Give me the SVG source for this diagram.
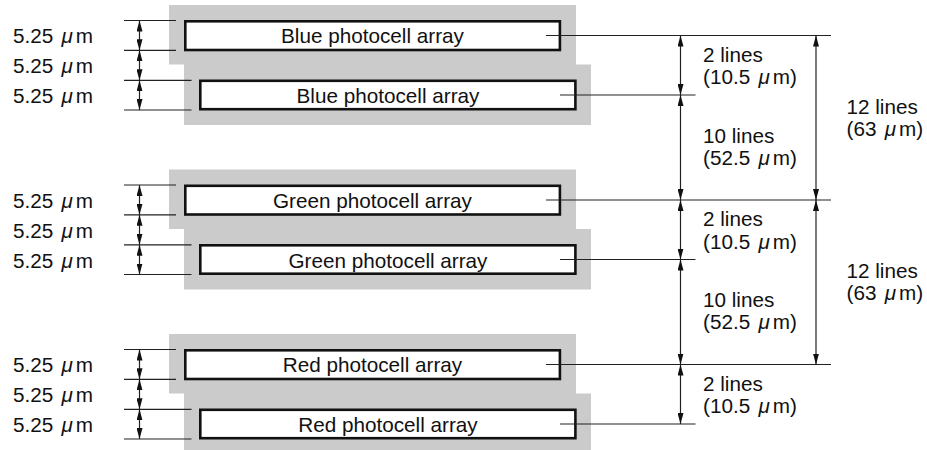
<svg xmlns="http://www.w3.org/2000/svg" width="927" height="450" viewBox="0 0 927 450">
<style>
  text { font-family: "Liberation Sans", Arial, Helvetica, sans-serif; font-size: 20.7px; fill: #111; }
  .mu { font-style: italic; }
  .gray { fill: #cbcbcb; stroke: none; }
  .box { fill: #fff; stroke: #111; stroke-width: 2.6; }
  .ext { stroke: #222; stroke-width: 1.2; fill: none; }
  .dim { stroke: #222; stroke-width: 1.2; fill: none; marker-start: url(#ah); marker-end: url(#ah); }
  .c { text-anchor: middle; }
</style>
<defs>
  <marker id="ah" markerWidth="11" markerHeight="6" refX="11" refY="3" orient="auto-start-reverse" markerUnits="userSpaceOnUse">
    <path d="M0,0 L11,3 L0,6 z" fill="#111"/>
  </marker>
</defs>
<rect width="927" height="450" fill="#fff"/>

<!-- Blue group -->
<g id="blue" transform="translate(0,0)">
  <path class="gray" d="M169,5 H576 V64.5 H591 V125 H184 V64.5 H169 Z"/>
  <g id="blue-array-1">
    <rect class="box" x="185.3" y="21.3" width="374.6" height="28.7"/>
    <text class="c" x="372.5" y="43">Blue photocell array</text>
  </g>
  <g id="blue-array-2">
    <rect class="box" x="200.3" y="80.8" width="375.1" height="28.4"/>
    <text class="c" x="388" y="103">Blue photocell array</text>
  </g>
  <text x="13" y="43.3">5.25 <tspan class="mu" dx="2.5">μ</tspan><tspan dx="3">m</tspan></text>
  <text x="13" y="73.3">5.25 <tspan class="mu" dx="2.5">μ</tspan><tspan dx="3">m</tspan></text>
  <text x="13" y="103.3">5.25 <tspan class="mu" dx="2.5">μ</tspan><tspan dx="3">m</tspan></text>
</g>

<!-- Green group -->
<g id="green" transform="translate(0,164.5)">
  <path class="gray" d="M169,5 H576 V64.5 H591 V125 H184 V64.5 H169 Z"/>
  <g id="green-array-1">
    <rect class="box" x="185.3" y="21.3" width="374.6" height="28.7"/>
    <text class="c" x="372.5" y="43">Green photocell array</text>
  </g>
  <g id="green-array-2">
    <rect class="box" x="200.3" y="80.8" width="375.1" height="28.4"/>
    <text class="c" x="388" y="103">Green photocell array</text>
  </g>
  <text x="13" y="43.3">5.25 <tspan class="mu" dx="2.5">μ</tspan><tspan dx="3">m</tspan></text>
  <text x="13" y="73.3">5.25 <tspan class="mu" dx="2.5">μ</tspan><tspan dx="3">m</tspan></text>
  <text x="13" y="103.3">5.25 <tspan class="mu" dx="2.5">μ</tspan><tspan dx="3">m</tspan></text>
</g>

<!-- Red group -->
<g id="red" transform="translate(0,329)">
  <path class="gray" d="M169,5 H576 V64.5 H591 V125 H184 V64.5 H169 Z"/>
  <g id="red-array-1">
    <rect class="box" x="185.3" y="21.3" width="374.6" height="28.7"/>
    <text class="c" x="372.5" y="43">Red photocell array</text>
  </g>
  <g id="red-array-2">
    <rect class="box" x="200.3" y="80.8" width="375.1" height="28.4"/>
    <text class="c" x="388" y="103">Red photocell array</text>
  </g>
  <text x="13" y="43.3">5.25 <tspan class="mu" dx="2.5">μ</tspan><tspan dx="3">m</tspan></text>
  <text x="13" y="73.3">5.25 <tspan class="mu" dx="2.5">μ</tspan><tspan dx="3">m</tspan></text>
  <text x="13" y="103.3">5.25 <tspan class="mu" dx="2.5">μ</tspan><tspan dx="3">m</tspan></text>
</g>

<!-- Connectors / dimension lines -->
<g id="connectors">
  <g transform="translate(0,0)">
    <path class="ext" d="M124,20.5 H176 M124,50.3 H176 M124,80.3 H191.5 M124,110 H191.5"/>
    <line class="dim" x1="139.5" y1="20.5" x2="139.5" y2="50.3"/>
    <line class="dim" x1="139.5" y1="50.3" x2="139.5" y2="80.3"/>
    <line class="dim" x1="139.5" y1="80.3" x2="139.5" y2="110"/>
  </g>
  <g transform="translate(0,164.5)">
    <path class="ext" d="M124,20.5 H176 M124,50.3 H176 M124,80.3 H191.5 M124,110 H191.5"/>
    <line class="dim" x1="139.5" y1="20.5" x2="139.5" y2="50.3"/>
    <line class="dim" x1="139.5" y1="50.3" x2="139.5" y2="80.3"/>
    <line class="dim" x1="139.5" y1="80.3" x2="139.5" y2="110"/>
  </g>
  <g transform="translate(0,329)">
    <path class="ext" d="M124,20.5 H176 M124,50.3 H176 M124,80.3 H191.5 M124,110 H191.5"/>
    <line class="dim" x1="139.5" y1="20.5" x2="139.5" y2="50.3"/>
    <line class="dim" x1="139.5" y1="50.3" x2="139.5" y2="80.3"/>
    <line class="dim" x1="139.5" y1="80.3" x2="139.5" y2="110"/>
  </g>

  <path class="ext" d="M546,35.5 H831 M560,95 H695.5 M546,200 H831 M560,259.5 H695.5 M546,364.5 H831 M560,424 H695.5"/>

  <line class="dim" x1="680.5" y1="35.5" x2="680.5" y2="95"/>
  <line class="dim" x1="680.5" y1="95" x2="680.5" y2="200"/>
  <line class="dim" x1="680.5" y1="200" x2="680.5" y2="259.5"/>
  <line class="dim" x1="680.5" y1="259.5" x2="680.5" y2="364.5"/>
  <line class="dim" x1="680.5" y1="364.5" x2="680.5" y2="424"/>
  <line class="dim" x1="816" y1="35.5" x2="816" y2="200"/>
  <line class="dim" x1="816" y1="200" x2="816" y2="364.5"/>
</g>

<g id="right-labels">
  <text x="703" y="61.7">2 lines</text>
  <text x="703" y="84">(10.5 <tspan class="mu" dx="2.5">μ</tspan><tspan dx="3">m)</tspan></text>
  <text x="703" y="142.5">10 lines</text>
  <text x="703" y="164.8">(52.5 <tspan class="mu" dx="2.5">μ</tspan><tspan dx="3">m)</tspan></text>
  <text x="703" y="226.2">2 lines</text>
  <text x="703" y="248.5">(10.5 <tspan class="mu" dx="2.5">μ</tspan><tspan dx="3">m)</tspan></text>
  <text x="703" y="307">10 lines</text>
  <text x="703" y="329.3">(52.5 <tspan class="mu" dx="2.5">μ</tspan><tspan dx="3">m)</tspan></text>
  <text x="703" y="390.7">2 lines</text>
  <text x="703" y="413">(10.5 <tspan class="mu" dx="2.5">μ</tspan><tspan dx="3">m)</tspan></text>
  <text x="846.5" y="113.5">12 lines</text>
  <text x="846.5" y="135.8">(63 <tspan class="mu" dx="2.5">μ</tspan><tspan dx="3">m)</tspan></text>
  <text x="846.5" y="278">12 lines</text>
  <text x="846.5" y="300.3">(63 <tspan class="mu" dx="2.5">μ</tspan><tspan dx="3">m)</tspan></text>
</g>
</svg>
